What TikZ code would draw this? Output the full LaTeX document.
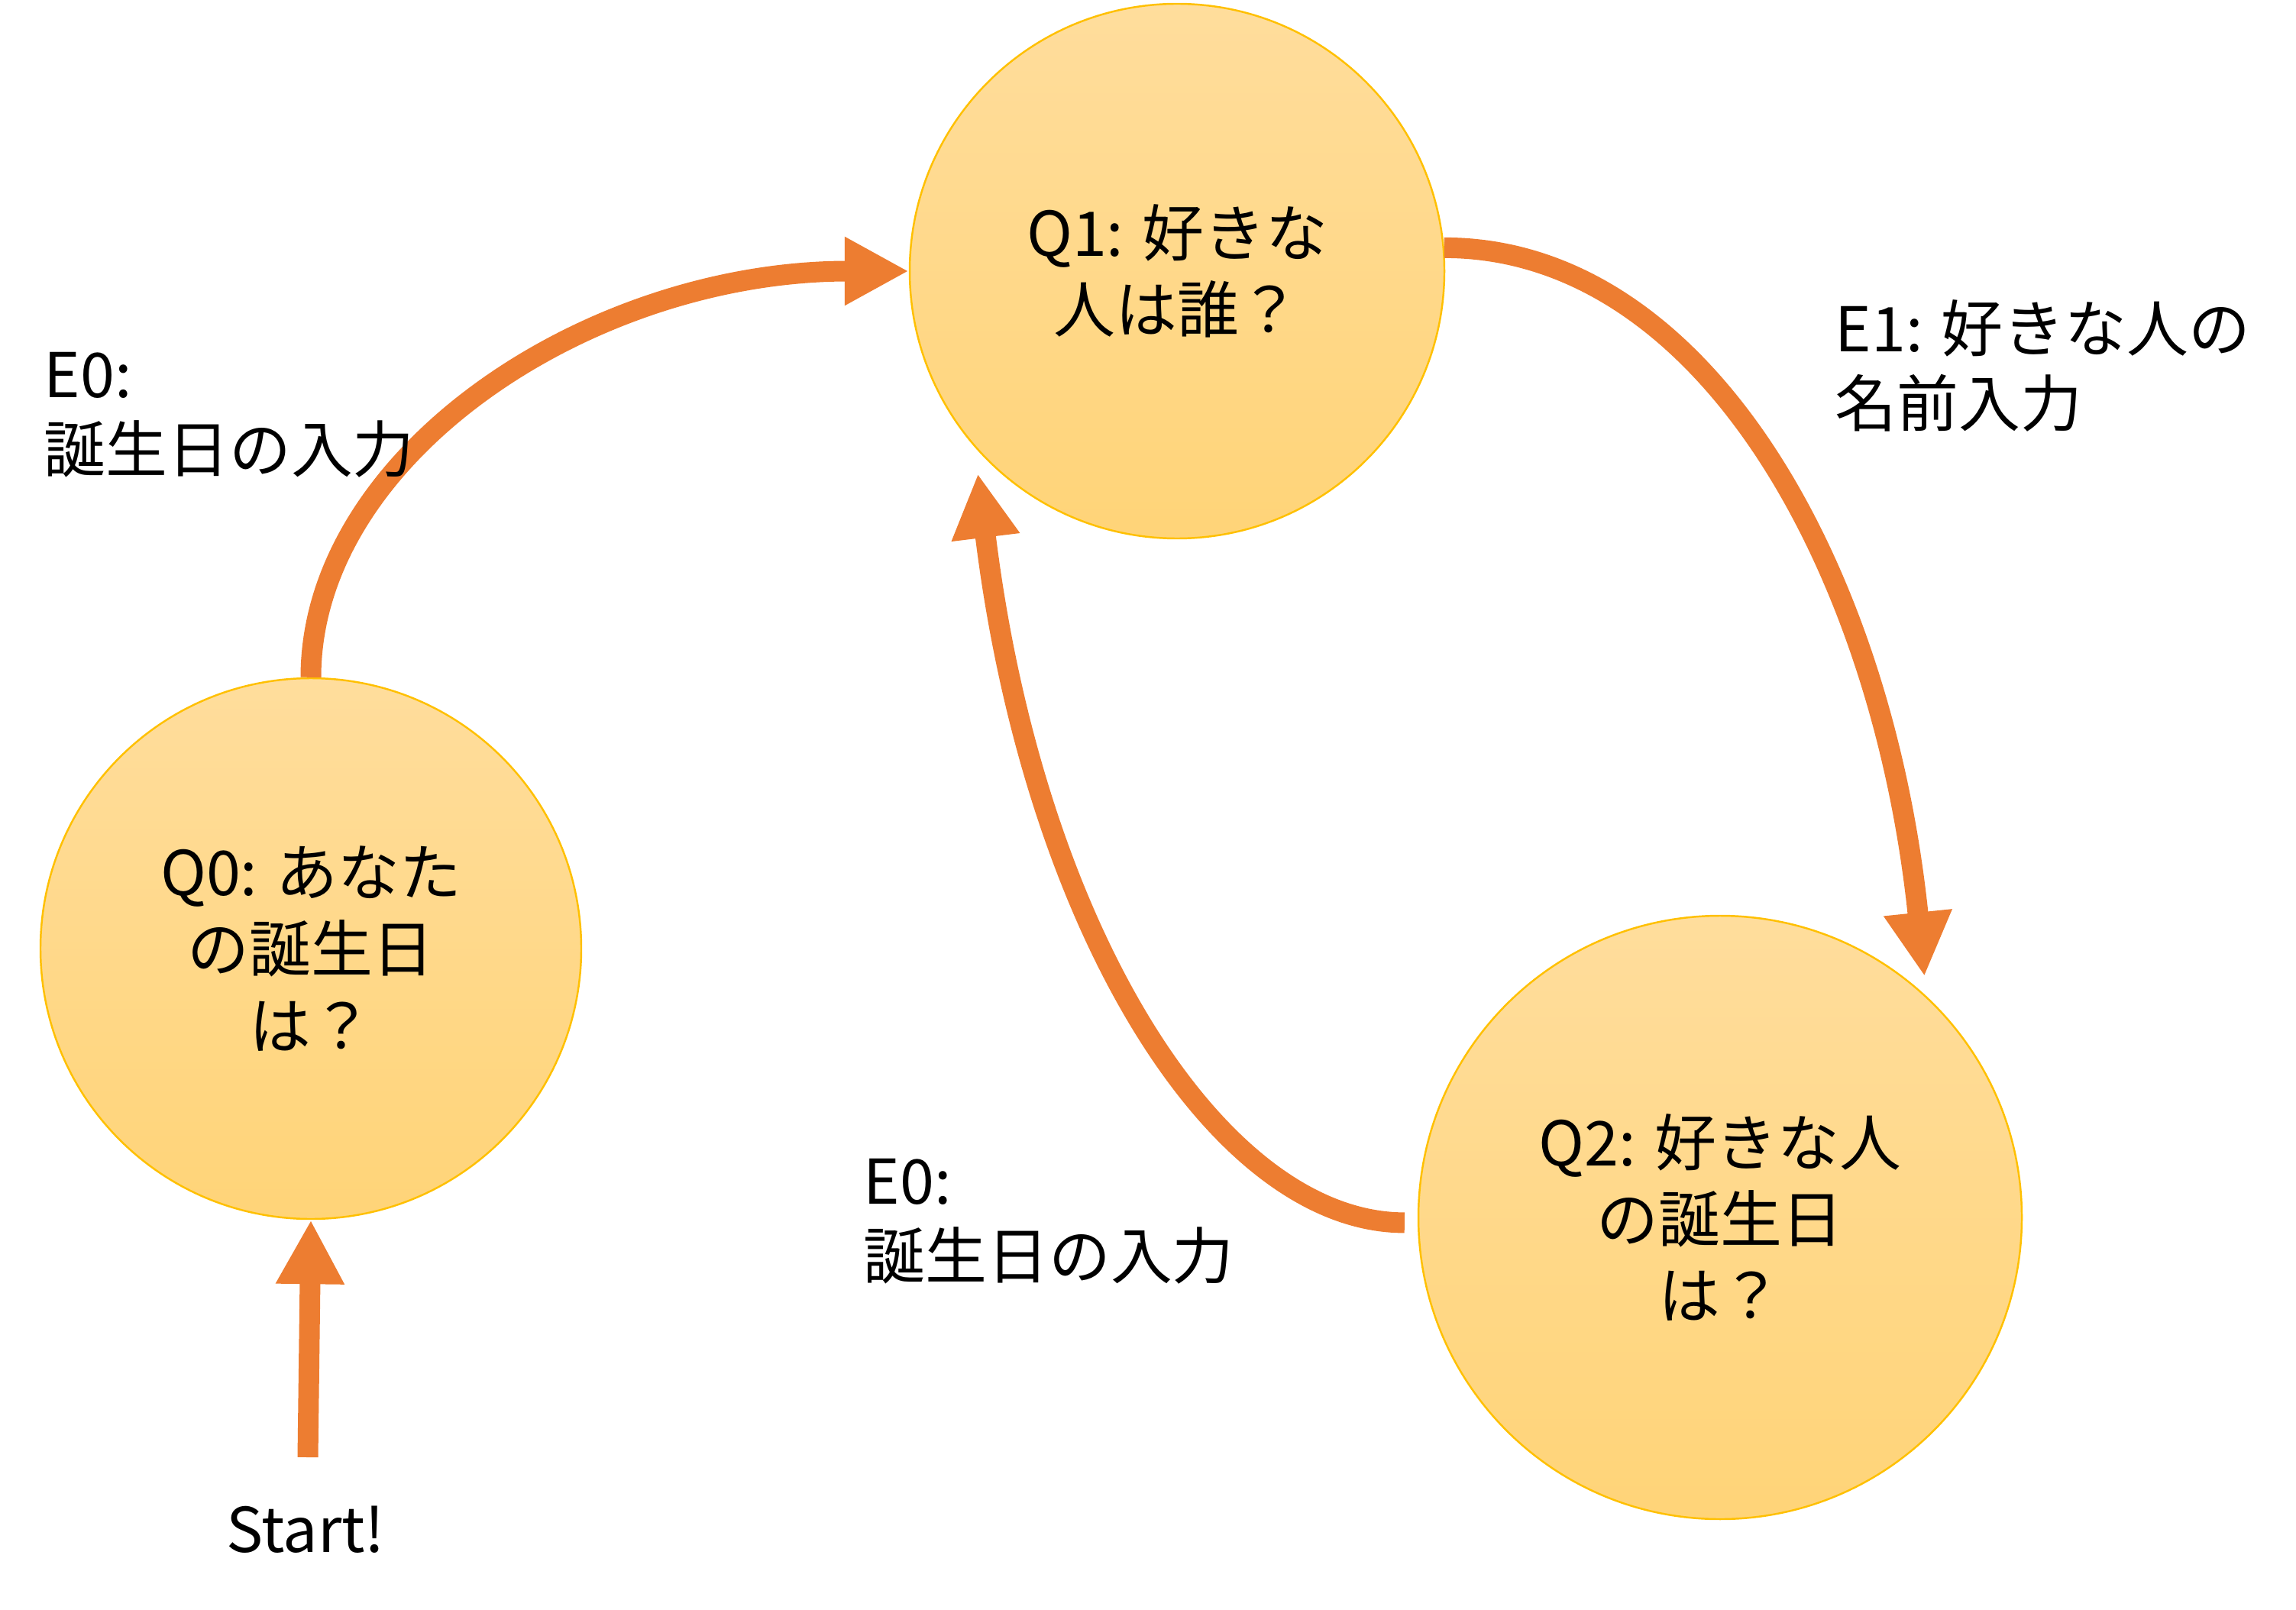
\documentclass[tikz,border=0pt]{standalone}
\usepackage{fontspec}
\setmainfont{Noto Sans CJK JP}
\usetikzlibrary{arrows.meta}
\definecolor{arrowc}{HTML}{ED7D31}
\definecolor{statetop}{HTML}{FFDD9C}
\definecolor{statebot}{HTML}{FFD478}
\definecolor{stateline}{HTML}{FFC000}
\begin{document}
\begin{tikzpicture}[
  state/.style={circle, draw=stateline, line width=0.7pt, top color=statetop, bottom color=statebot, align=center, inner sep=0pt, font=\fontsize{23}{28.5}\selectfont},
  edgelbl/.style={anchor=west, align=left, inner sep=0pt, font=\fontsize{23}{28}\selectfont},
  trans/.style={draw=arrowc, line width=0.27cm, -{Triangle[length=0.84cm, width=0.84cm]}}
]
\useasboundingbox (0,0) rectangle (30.06,-21.08);
\node[state, minimum size=7.08cm] (q0) at (4.07,-12.42) {Q0: あなた\\の誕生日\\は？};
\node[state, minimum size=7.0cm] (q1) at (15.41,-3.55) {Q1: 好きな\\人は誰？};
\node[state, minimum size=7.9cm] (q2) at (22.52,-15.94) {Q2: 好きな人\\の誕生日\\は？};
\coordinate (start) at (4.03,-19.08);
\node[font=\fontsize{23}{28}\selectfont] (startlbl) at (4.0,-20.03) {Start!};
\draw[trans] (start) -- (q0.south);
\draw[trans] (q0.north) .. controls +(0,2.9) and +(-4.2,0) .. (q1.west);
\draw[trans, shorten >=0.26cm] (q1.5) .. controls +(3.4,0) and +(-0.58,5.6) .. (q2.47);
\draw[trans, shorten <=0.17cm, shorten >=0.35cm] (q2.181) .. controls +(-2.6,0) and +(0.78,-6.35) .. (q1.221);
\node[edgelbl] (e0a) at (0.57,-5.43) {E0:\\誕生日の入力};
\node[edgelbl] (e1) at (24.02,-4.79) {E1: 好きな人の\\名前入力};
\node[edgelbl] (e0b) at (11.30,-15.99) {E0:\\誕生日の入力};
\end{tikzpicture}
\end{document}
